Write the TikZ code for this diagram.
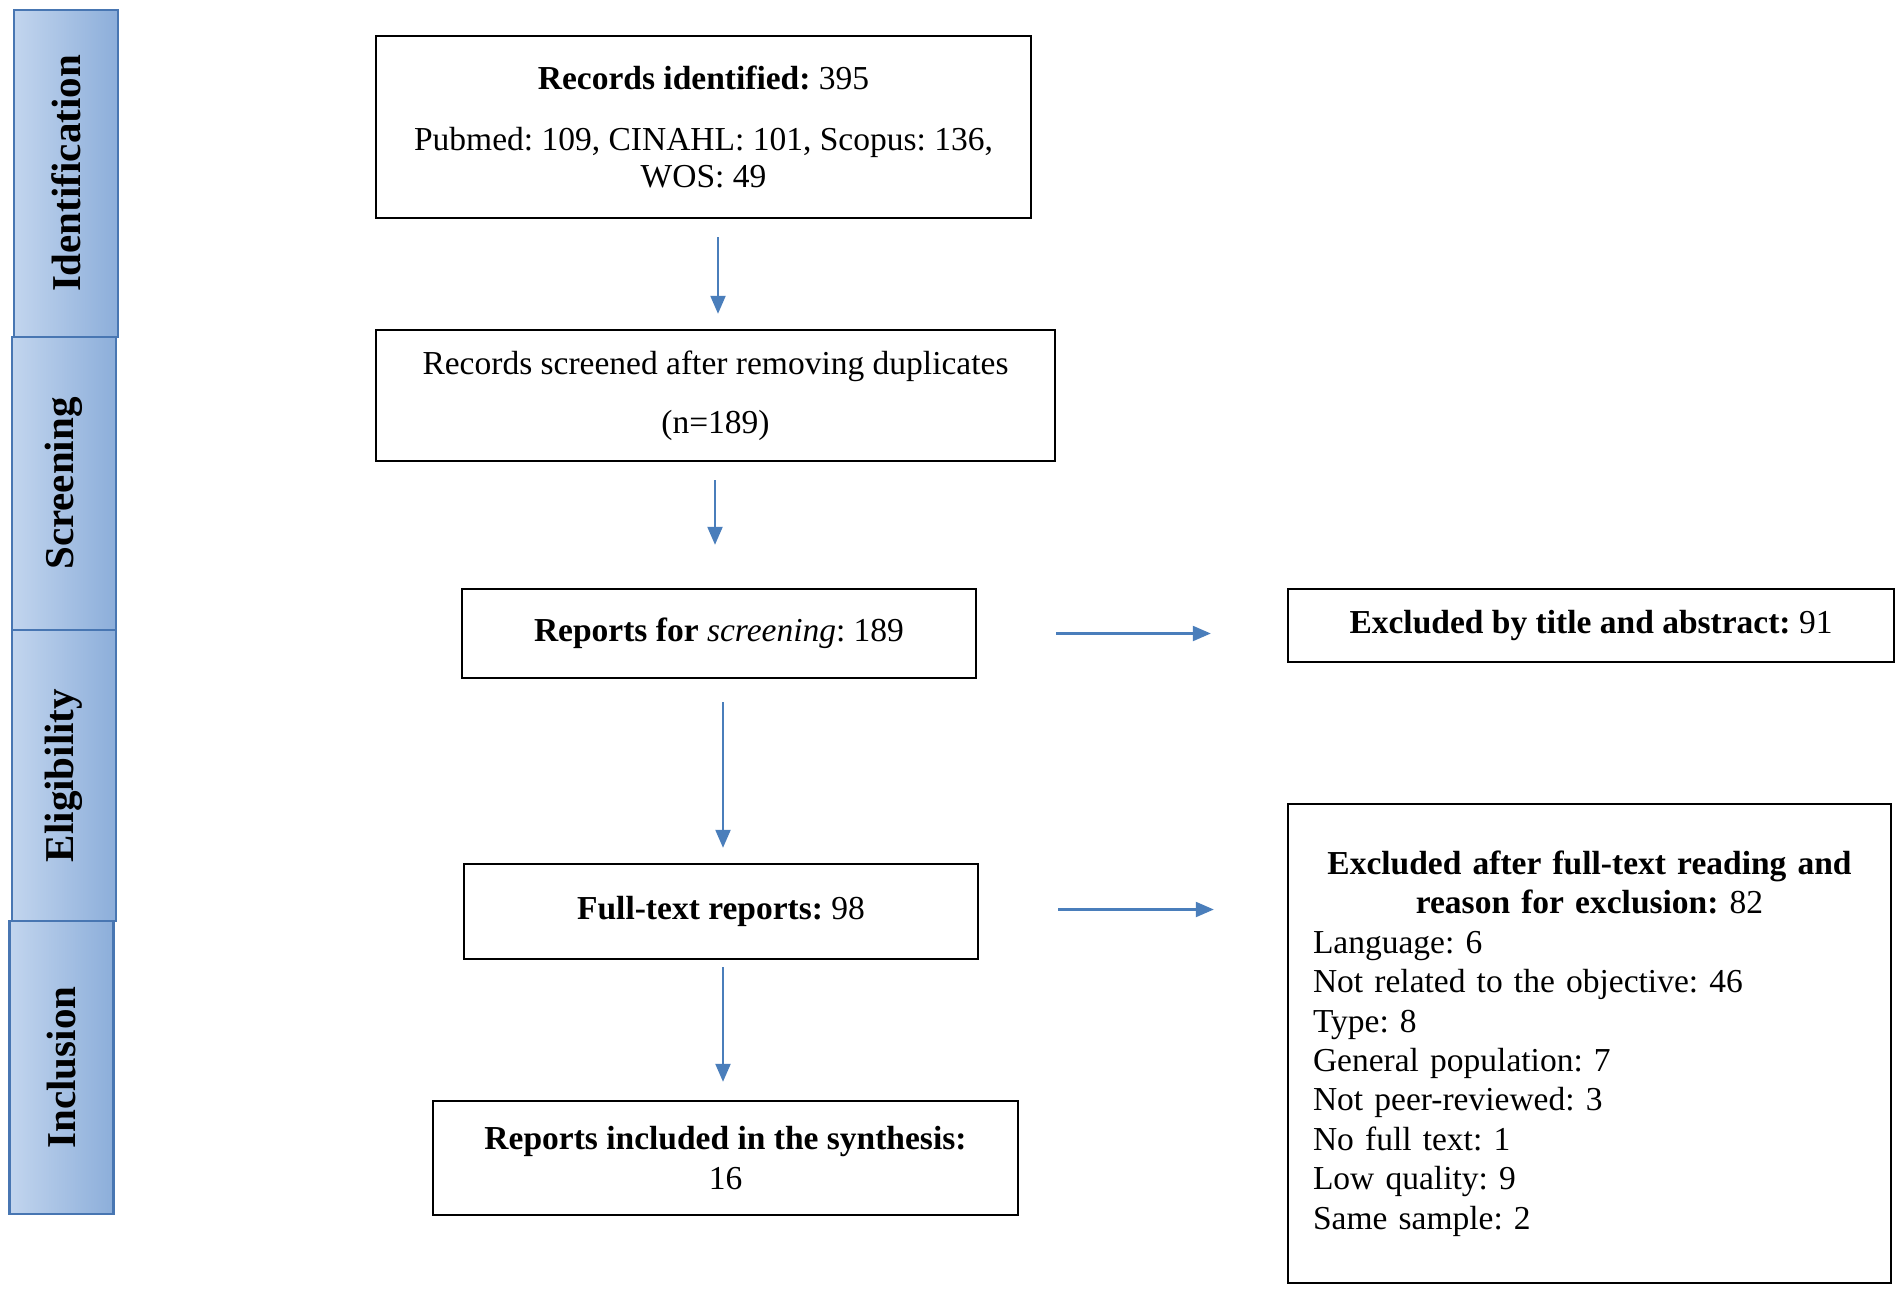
\documentclass[tikz,border=0pt]{standalone}
\usepackage{fontspec}
\setmainfont{Liberation Serif}
\usetikzlibrary{arrows.meta}
\frenchspacing
\definecolor{arrowblue}{RGB}{74,126,187}
\definecolor{tabedge}{RGB}{72,118,178}
\definecolor{tablight}{RGB}{194,213,238}
\definecolor{tabdark}{RGB}{140,174,218}
\tikzset{
  box/.style={draw=black, line width=2.4pt, fill=white, inner sep=0pt, align=center,
    font=\frenchspacing\fontsize{33.5}{39.4}\selectfont},
  tab/.style={draw=tabedge, line width=2.2pt, left color=tablight, right color=tabdark,
    minimum width=104pt, inner sep=0pt},
  tablabel/.style={rotate=90, font=\fontsize{41}{48}\selectfont\bfseries},
  arr/.style={draw=arrowblue, line width=2.2pt, -{Triangle[length=18pt,width=15pt]}},
}
\begin{document}
\begin{tikzpicture}[x=1pt,y=-1pt]
\useasboundingbox[fill=white] (0,0) rectangle (1901,1294);
% phase tabs
\node[tab, minimum height=327pt] (tI) at (66,173.5) {};
\node[tablabel] (lI) at (tI.center) {Identification};
\node[tab, minimum height=293pt] (tS) at (64,483.5) {};
\node[tablabel] (lS) at (tS.center) {Screening};
\node[tab, minimum height=291pt] (tE) at (64,775.5) {};
\node[tablabel] (lE) at (tE.center) {Eligibility};
\node[tab, minimum height=293pt] (tN) at (61.5,1067.5) {};
\node[tablabel] (lN) at (tN.center) {Inclusion};
% main boxes
\node[box, minimum width=655pt, minimum height=182pt] (id) at (703.5,127)
  {\textbf{Records identified:} 395\\[21pt]Pubmed: 109, CINAHL: 101, Scopus: 136,\\[-2pt]WOS: 49};
\node[box, minimum width=679pt, minimum height=131pt] (scr) at (715.5,395.5)
  {Records screened after removing duplicates\\[20pt](n=189)};
\node[box, minimum width=514pt, minimum height=89pt] (rep) at (719,633.5)
  {\textbf{Reports for} \textit{screening}: 189};
\node[box, minimum width=606pt, minimum height=73pt] (exc1) at (1591,625.5)
  {\textbf{Excluded by title and abstract:} 91};
\node[box, minimum width=514pt, minimum height=95pt] (full) at (721,911.5)
  {\textbf{Full-text reports:} 98};
\node[box, minimum width=603pt, minimum height=479pt, text width=553pt, align=left] (exc2) at (1589.5,1043.5)
  {{\centering\textbf{Excluded after full-text reading and}\\\textbf{reason for exclusion:} 82\par}
   Language: 6\\
   Not related to the objective: 46\\
   Type: 8\\
   General population: 7\\
   Not peer-reviewed: 3\\
   No full text: 1\\
   Low quality: 9\\
   Same sample: 2};
\node[box, minimum width=585pt, minimum height=114pt] (inc) at (725.5,1158)
  {\textbf{Reports included in the synthesis:}\\16};
% connectors
\draw[arr, shorten <=18pt, shorten >=15pt] ([xshift=14.5pt]id.south) -- ([xshift=2.5pt]scr.north);
\draw[arr, shorten <=18pt, shorten >=43pt] ([xshift=-0.5pt]scr.south) -- ([xshift=-4pt]rep.north);
\draw[arr, shorten <=23pt, shorten >=15pt] ([xshift=4pt]rep.south) -- ([xshift=2pt]full.north);
\draw[arr, shorten <=7pt, shorten >=18pt] ([xshift=2pt]full.south) -- ([xshift=-2.5pt]inc.north);
\draw[arr, shorten <=79pt, shorten >=76pt] (rep.east) -- (rep.east -| exc1.west);
\draw[arr, shorten <=79pt, shorten >=73pt] ([yshift=2pt]full.east) -- ([yshift=2pt]full.east -| exc2.west);
\end{tikzpicture}
\end{document}
